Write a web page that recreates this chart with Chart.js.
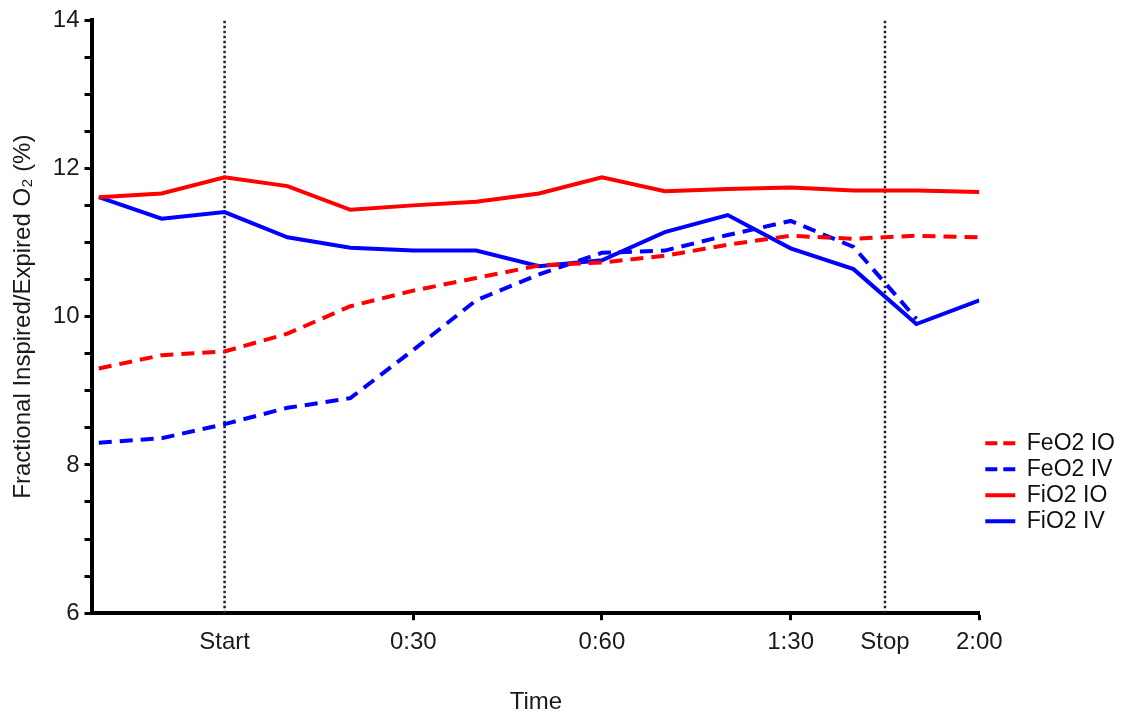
<!DOCTYPE html>
<html>
<head>
<meta charset="utf-8">
<script src="https://cdn.jsdelivr.net/npm/chart.js@4.4.1/dist/chart.umd.min.js"></script>
<style>
  html, body { margin: 0; padding: 0; background: #fff; }
</style>
</head>
<body>
<canvas id="o2-chart" width="1125" height="714"></canvas>
<script>
// tiempo en segundos desde "Start"
const times = [-20, -10, 0, 10, 20, 30, 40, 50, 60, 70, 80, 90, 100, 110, 120];

const feO2IO = [9.30, 9.48, 9.53, 9.77, 10.14, 10.35, 10.52, 10.69, 10.73, 10.82, 10.97, 11.09, 11.05, 11.09, 11.07];
const feO2IV = [8.30, 8.36, 8.55, 8.77, 8.90, 9.55, 10.22, 10.57, 10.86, 10.89, 11.10, 11.29, 10.94, 9.97, null];
const fiO2IO = [11.61, 11.66, 11.88, 11.76, 11.44, 11.50, 11.55, 11.66, 11.88, 11.69, 11.72, 11.74, 11.70, 11.70, 11.68];
const fiO2IV = [11.61, 11.32, 11.41, 11.07, 10.93, 10.89, 10.89, 10.68, 10.76, 11.14, 11.37, 10.92, 10.64, 9.90, 10.22];

const tickValues = [0, 30, 60, 90, 105, 120];
const tickLabels = ['Start', '0:30', '0:60', '1:30', 'Stop', '2:00'];
const markerTimes = [0, 105]; // lineas punteadas Start / Stop

const Y_MIN = 6;
const Y_MAX = 14;
const FONT = 'Liberation Sans, Arial, sans-serif';

const toPoints = (vals) => times.map((t, i) => ({ x: t, y: vals[i] }));

const series = [
  { label: 'FeO2 IO', values: feO2IO, color: '#ff0000', dash: [13, 8], legendDash: [12, 6] },
  { label: 'FeO2 IV', values: feO2IV, color: '#0000ff', dash: [13, 8], legendDash: [12, 6] },
  { label: 'FiO2 IO', values: fiO2IO, color: '#ff0000', dash: [], legendDash: [] },
  { label: 'FiO2 IV', values: fiO2IV, color: '#0000ff', dash: [], legendDash: [] },
];

const datasets = series.map((s) => ({
  label: s.label,
  data: toPoints(s.values),
  borderColor: s.color,
  backgroundColor: s.color,
  borderWidth: 4,
  borderDash: s.dash,
  pointRadius: 0,
  tension: 0,
  spanGaps: false,
}));

markerTimes.forEach((t) => {
  datasets.push({
    label: 'marker',
    data: [{ x: t, y: Y_MIN }, { x: t, y: Y_MAX }],
    borderColor: '#222',
    borderWidth: 2.5,
    borderDash: [2.5, 2.5],
    pointRadius: 0,
  });
});

// mover la leyenda a la parte baja, a la derecha del area del grafico
const legendPlacer = {
  id: 'legendPlacer',
  afterLayout(chart) {
    const lg = chart.legend;
    const ca = chart.chartArea;
    const h = lg.bottom - lg.top;
    const w = lg.right - lg.left;
    lg.top = ca.top + (ca.bottom - ca.top) * 0.689;
    lg.bottom = lg.top + h;
    lg.left = ca.right + 3;
    lg.right = lg.left + w;
  },
};

const ctx = document.getElementById('o2-chart').getContext('2d');

const chart = new Chart(ctx, {
  type: 'line',
  data: { datasets },
  plugins: [legendPlacer],
  options: {
    responsive: false,
    animation: false,
    layout: { padding: { top: 20, right: 3, left: 9, bottom: 0 } },
    plugins: {
      tooltip: { enabled: false },
      legend: {
        position: 'right',
        align: 'start',
        fullSize: false,
        labels: {
          filter: (item) => item.datasetIndex < 4,
          generateLabels: (chart) => {
            const items = Chart.defaults.plugins.legend.labels.generateLabels(chart);
            items.forEach((it) => {
              if (series[it.datasetIndex]) it.lineDash = series[it.datasetIndex].legendDash;
            });
            return items;
          },
          usePointStyle: true,
          pointStyle: 'line',
          pointStyleWidth: 30,
          boxHeight: 10,
          padding: 3,
          color: '#111',
          font: { family: FONT, size: 23 },
        },
      },
    },
    scales: {
      x: {
        type: 'linear',
        min: -21,
        max: 120,
        afterBuildTicks: (scale) => {
          scale.ticks = tickValues.map((v) => ({ value: v }));
        },
        ticks: {
          autoSkip: false,
          maxRotation: 0,
          padding: 8,
          color: '#1a1a1a',
          font: { family: FONT, size: 24 },
          callback: (v) => tickLabels[tickValues.indexOf(v)],
        },
        grid: {
          drawOnChartArea: false,
          drawTicks: true,
          tickLength: 7,
          tickWidth: 3,
          tickColor: (c) => (c.tick && markerTimes.includes(c.tick.value) ? 'rgba(0,0,0,0)' : '#000'),
        },
        border: { display: true, color: '#000', width: 4 },
        title: {
          display: true,
          text: 'Time',
          color: '#1a1a1a',
          font: { family: FONT, size: 24, lineHeight: 1 },
          padding: { top: 25, bottom: 0 },
        },
      },
      y: {
        min: Y_MIN,
        max: Y_MAX,
        ticks: {
          stepSize: 0.5,
          autoSkip: false,
          padding: 5,
          color: '#1a1a1a',
          font: { family: FONT, size: 24 },
          callback: (v) => (v % 2 === 0 ? v : ''),
        },
        grid: {
          drawOnChartArea: false,
          drawTicks: true,
          tickLength: 8,
          tickWidth: 3,
          tickColor: '#000',
        },
        border: { display: true, color: '#000', width: 4 },
        title: {
          display: true,
          text: 'Fractional Inspired/Expired O\u2082 (%)',
          color: '#1a1a1a',
          font: { family: FONT, size: 24 },
          padding: { top: 0, bottom: 10 },
        },
      },
    },
  },
});
</script>
</body>
</html>
